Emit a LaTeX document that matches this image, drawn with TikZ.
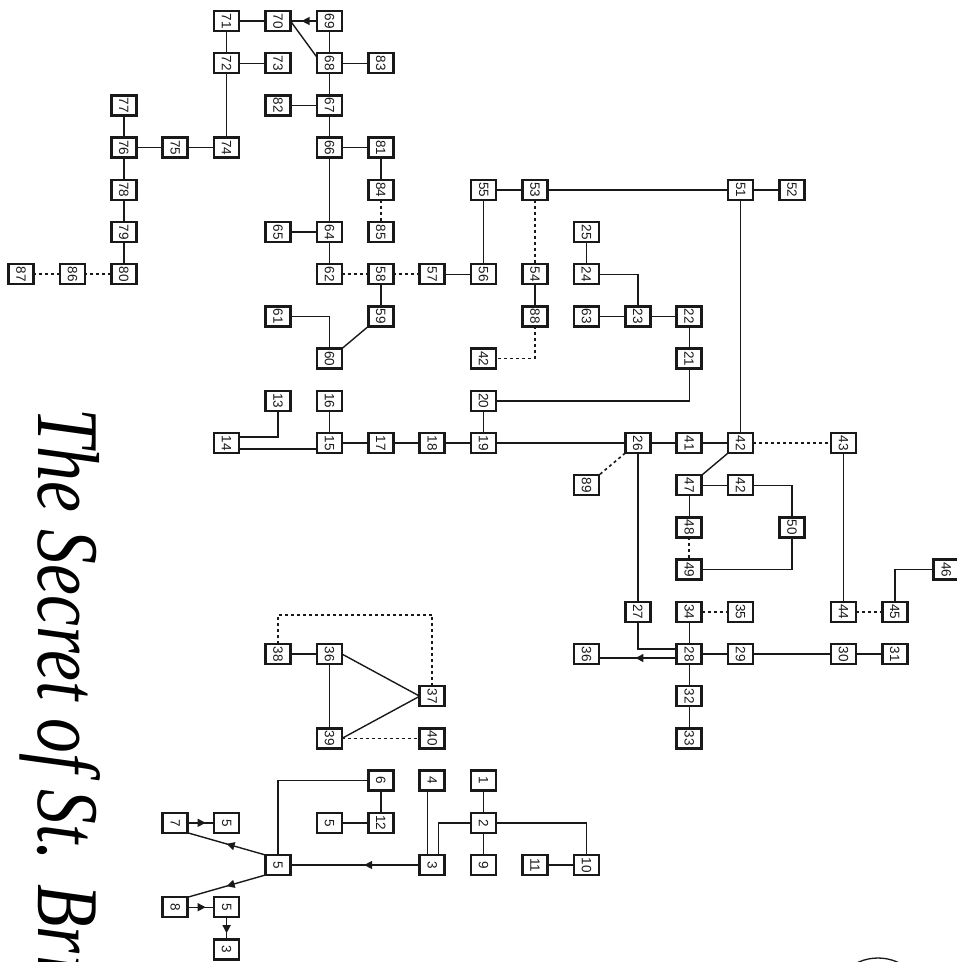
\documentclass[tikz,border=0pt]{standalone}
\usepackage{graphicx}
\usepackage{fontspec}
\setmainfont{Liberation Sans}
\newfontfamily\titlefont{Liberation Serif Italic}
\usetikzlibrary{decorations.markings,arrows.meta}
\definecolor{ink}{RGB}{25,25,25}
\newcommand\rt[1]{\rotatebox{-90}{#1}}
\begin{document}
\begin{tikzpicture}[x=51.4pt,y=-42.2pt,
  box/.style={draw=ink, line width=2.5pt, fill=white, minimum width=25pt,
    minimum height=20pt, inner sep=0pt, outer sep=0pt,
    font=\fontsize{13.5}{13.5}\selectfont, text=ink},
  conn/.style={draw=ink, line width=1.4pt},
  dots/.style={conn, line width=1.6pt, dash pattern=on 3pt off 3pt},
  midarrow/.style={conn, postaction={decorate}, decoration={markings,
    mark=at position #1 with {\arrow[ink]{Triangle[length=8pt,width=8pt]}}}},
  midarrow/.default=0.55]
\useasboundingbox (-21pt,21pt) rectangle (936pt,-941pt);
\clip (-21pt,21pt) rectangle (936pt,-941pt);

% title
\node[anchor=base west, rotate=-90, inner sep=0pt, text=black] (title) at (18pt,-387pt)
  {\titlefont\fontsize{88}{88}\selectfont\scalebox{0.79}[1]{The Secret of St. Brid}};
\draw[ink, line width=1.3pt] (857pt,-985pt) circle (48pt);

% nodes
\node[box] (n71) at (4,0) {\rt{71}};
\node[box] (n70) at (5,0) {\rt{70}};
\node[box] (n69) at (6,0) {\rt{69}};
\node[box] (n72) at (4,1) {\rt{72}};
\node[box] (n73) at (5,1) {\rt{73}};
\node[box] (n68) at (6,1) {\rt{68}};
\node[box] (n83) at (7,1) {\rt{83}};
\node[box] (n77) at (2,2) {\rt{77}};
\node[box] (n82) at (5,2) {\rt{82}};
\node[box] (n67) at (6,2) {\rt{67}};
\node[box] (n76) at (2,3) {\rt{76}};
\node[box] (n75) at (3,3) {\rt{75}};
\node[box] (n74) at (4,3) {\rt{74}};
\node[box] (n66) at (6,3) {\rt{66}};
\node[box] (n81) at (7,3) {\rt{81}};
\node[box] (n78) at (2,4) {\rt{78}};
\node[box] (n84) at (7,4) {\rt{84}};
\node[box] (n55) at (9,4) {\rt{55}};
\node[box] (n53) at (10,4) {\rt{53}};
\node[box] (n51) at (14,4) {\rt{51}};
\node[box] (n52) at (15,4) {\rt{52}};
\node[box] (n79) at (2,5) {\rt{79}};
\node[box] (n65) at (5,5) {\rt{65}};
\node[box] (n64) at (6,5) {\rt{64}};
\node[box] (n85) at (7,5) {\rt{85}};
\node[box] (n25) at (11,5) {\rt{25}};
\node[box] (n87) at (0,6) {\rt{87}};
\node[box] (n86) at (1,6) {\rt{86}};
\node[box] (n80) at (2,6) {\rt{80}};
\node[box] (n62) at (6,6) {\rt{62}};
\node[box] (n58) at (7,6) {\rt{58}};
\node[box] (n57) at (8,6) {\rt{57}};
\node[box] (n56) at (9,6) {\rt{56}};
\node[box] (n54) at (10,6) {\rt{54}};
\node[box] (n24) at (11,6) {\rt{24}};
\node[box] (n61) at (5,7) {\rt{61}};
\node[box] (n59) at (7,7) {\rt{59}};
\node[box] (n88) at (10,7) {\rt{88}};
\node[box] (n63) at (11,7) {\rt{63}};
\node[box] (n23) at (12,7) {\rt{23}};
\node[box] (n22) at (13,7) {\rt{22}};
\node[box] (n60) at (6,8) {\rt{60}};
\node[box] (n42c) at (9,8) {\rt{42}};
\node[box] (n21) at (13,8) {\rt{21}};
\node[box] (n13) at (5,9) {\rt{13}};
\node[box] (n16) at (6,9) {\rt{16}};
\node[box] (n20) at (9,9) {\rt{20}};
\node[box] (n14) at (4,10) {\rt{14}};
\node[box] (n15) at (6,10) {\rt{15}};
\node[box] (n17) at (7,10) {\rt{17}};
\node[box] (n18) at (8,10) {\rt{18}};
\node[box] (n19) at (9,10) {\rt{19}};
\node[box] (n26) at (12,10) {\rt{26}};
\node[box] (n41) at (13,10) {\rt{41}};
\node[box] (n42) at (14,10) {\rt{42}};
\node[box] (n43) at (16,10) {\rt{43}};
\node[box] (n89) at (11,11) {\rt{89}};
\node[box] (n47) at (13,11) {\rt{47}};
\node[box] (n42b) at (14,11) {\rt{42}};
\node[box] (n48) at (13,12) {\rt{48}};
\node[box] (n50) at (15,12) {\rt{50}};
\node[box] (n49) at (13,13) {\rt{49}};
\node[box] (n46) at (18,13) {\rt{46}};
\node[box] (n27) at (12,14) {\rt{27}};
\node[box] (n34) at (13,14) {\rt{34}};
\node[box] (n35) at (14,14) {\rt{35}};
\node[box] (n44) at (16,14) {\rt{44}};
\node[box] (n45) at (17,14) {\rt{45}};
\node[box] (n38) at (5,15) {\rt{38}};
\node[box] (n36a) at (6,15) {\rt{36}};
\node[box] (n36b) at (11,15) {\rt{36}};
\node[box] (n28) at (13,15) {\rt{28}};
\node[box] (n29) at (14,15) {\rt{29}};
\node[box] (n30) at (16,15) {\rt{30}};
\node[box] (n31) at (17,15) {\rt{31}};
\node[box] (n37) at (8,16) {\rt{37}};
\node[box] (n32) at (13,16) {\rt{32}};
\node[box] (n39) at (6,17) {\rt{39}};
\node[box] (n40) at (8,17) {\rt{40}};
\node[box] (n33) at (13,17) {\rt{33}};
\node[box] (n6) at (7,18) {\rt{6}};
\node[box] (n4) at (8,18) {\rt{4}};
\node[box] (n1) at (9,18) {\rt{1}};
\node[box] (n7) at (3,19) {\rt{7}};
\node[box] (n5a) at (4,19) {\rt{5}};
\node[box] (n5d) at (6,19) {\rt{5}};
\node[box] (n12) at (7,19) {\rt{12}};
\node[box] (n2) at (9,19) {\rt{2}};
\node[box] (n5b) at (5,20) {\rt{5}};
\node[box] (n3a) at (8,20) {\rt{3}};
\node[box] (n9) at (9,20) {\rt{9}};
\node[box] (n11) at (10,20) {\rt{11}};
\node[box] (n10) at (11,20) {\rt{10}};
\node[box] (n8) at (3,21) {\rt{8}};
\node[box] (n5c) at (4,21) {\rt{5}};
\node[box] (n3b) at (4,22) {\rt{3}};
\coordinate (k38) at (5,14.07);

% connectors
\draw[conn] (n71) -- (n70);
\draw[midarrow=0.58] (n69) -- (n70);
\draw[conn] (n70.east) -- ([yshift=-4pt]n68.north west);
\draw[conn] (n71) -- (n72);
\draw[conn] (n72) -- (n73);
\draw[conn] (n72) -- (n74);
\draw[conn] (n74) -- (n75);
\draw[conn] (n75) -- (n76);
\draw[conn] (n76) -- (n77);
\draw[conn] (n76) -- (n78);
\draw[conn] (n78) -- (n79);
\draw[conn] (n79) -- (n80);
\draw[dots] (n80) -- (n86);
\draw[dots] (n86) -- (n87);
\draw[conn] (n69) -- (n68);
\draw[conn] (n68) -- (n83);
\draw[conn] (n68) -- (n67);
\draw[conn] (n82) -- (n67);
\draw[conn] (n67) -- (n66);
\draw[conn] (n66) -- (n81);
\draw[conn] (n81) -- (n84);
\draw[dots] (n84) -- (n85);
\draw[conn] (n66) -- (n64);
\draw[conn] (n64) -- (n65);
\draw[conn] (n64) -- (n62);
\draw[dots] (n62) -- (n58);
\draw[dots] (n58) -- (n57);
\draw[conn] (n57) -- (n56);
\draw[conn] (n58) -- (n59);
\draw[conn] (n59.south west) -- (n60.north east);
\draw[conn] (n61) -| (n60);
\draw[conn] (n56) -- (n55);
\draw[conn] (n55) -- (n53);
\draw[conn] (n53) -- (n51);
\draw[conn] (n51) -- (n52);
\draw[dots] (n53) -- (n54);
\draw[conn] (n54) -- (n88);
\draw[dots] (n88) |- (n42c);
\draw[conn] (n51) -- (n42);
\draw[conn] (n25) -- (n24);
\draw[conn] (n24) -| (n23);
\draw[conn] (n63) -- (n23);
\draw[conn] (n23) -- (n22);
\draw[conn] (n22) -- (n21);
\draw[conn] (n21) |- (n20);
\draw[conn] (n20) -- (n19);
\draw[conn] (n13) |- ([yshift=6pt]n14.east);
\draw[conn] ([yshift=-6pt]n15.west) -- ([yshift=-6pt]n14.east);
\draw[conn] (n15) -- (n16);
\draw[conn] (n15) -- (n17);
\draw[conn] (n17) -- (n18);
\draw[conn] (n18) -- (n19);
\draw[conn] (n19) -- (n26);
\draw[conn] (n26) -- (n41);
\draw[conn] (n41) -- (n42);
\draw[dots] (n42) -- (n43);
\draw[dots] (n26.south west) -- (n89.north east);
\draw[conn] (n26) -- (n27);
\draw[conn] (n27) |- ([yshift=5pt]n28.west);
\draw[midarrow=0.53] ([yshift=-4pt]n28.west) -- ([yshift=-4pt]n36b.east);
\draw[conn] (n28) -- (n34);
\draw[dots] (n34) -- (n35);
\draw[conn] (n28) -- (n29);
\draw[conn] (n29) -- (n30);
\draw[conn] (n30) -- (n31);
\draw[conn] (n28) -- (n32);
\draw[conn] (n32) -- (n33);
\draw[conn] (n42.south west) -- (n47.north east);
\draw[conn] (n47) -- (n42b);
\draw[conn] (n42b) -| (n50);
\draw[conn] (n47) -- (n48);
\draw[dots] (n48) -- (n49);
\draw[conn] (n50) |- (n49);
\draw[conn] (n43) -- (n44);
\draw[dots] (n44) -- (n45);
\draw[conn] (n45) |- (n46);
\draw[conn] (n38) -- (n36a);
\draw[dots] (n38) -- (k38) -| (n37);
\draw[conn] (n36a.east) -- (n37.west);
\draw[conn] (n39.east) -- (n37.west);
\draw[conn] (n36a) -- (n39);
\draw[dots] (n39) -- (n40);
\draw[conn] (n1) -- (n2);
\draw[conn] (n2) -- (n9);
\draw[conn] (n2) -| (n10);
\draw[conn] (n11) -- (n10);
\draw[conn] ([xshift=-5pt]n4.south) -- ([xshift=-5pt]n3a.north);
\draw[conn] (n2.west) -| ([xshift=6pt]n3a.north);
\draw[midarrow=0.43] (n3a) -- (n5b);
\draw[conn] (n6) -- (n12);
\draw[conn] (n12) -- (n5d);
\draw[conn] (n6) -| (n5b);
\draw[midarrow=0.5] (n5b.north west) -- (n7.south east);
\draw[midarrow=0.5] (n5b.south west) -- (n8.north east);
\draw[midarrow=0.68] (n7) -- (n5a);
\draw[midarrow=0.68] (n8) -- (n5c);
\draw[midarrow=0.72] (n5c) -- (n3b);
\end{tikzpicture}
\end{document}
